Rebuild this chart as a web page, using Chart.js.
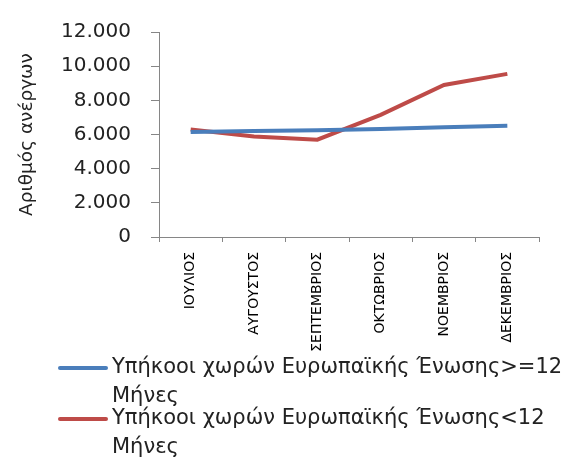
<!DOCTYPE html>
<html>
<head>
<meta charset="utf-8">
<script src="https://cdn.jsdelivr.net/npm/chart.js@4"></script>
<style>
    body { margin: 0; background: #fff; }
    #wrap { position: relative; width: 573px; height: 458px; }
    #legend {
        position: absolute; left: 58px; top: 352px; width: 514px;
        background: #fff; font-family: "DejaVu Sans", sans-serif; font-size: 21px; color: #222;
    }
    .item { display: flex; align-items: flex-start; line-height: 29px; margin-bottom: -7px; }
    .swatch { width: 50px; height: 4px; border-radius: 2px; margin-top: 14px; margin-right: 4px; flex: none; }
</style>
</head>
<body>
<div id="wrap">
    <canvas id="chart" width="573" height="458"></canvas>
    <div id="legend"></div>
</div>
<script>
const months = ["ΙΟΥΛΙΟΣ", "ΑΥΓΟΥΣΤΟΣ", "ΣΕΠΤΕΜΒΡΙΟΣ", "ΟΚΤΩΒΡΙΟΣ", "ΝΟΕΜΒΡΙΟΣ", "ΔΕΚΕΜΒΡΙΟΣ"];
const seriesNames = [
    "Υπήκοοι χωρών Ευρωπαϊκής Ένωσης>=12 Μήνες",
    "Υπήκοοι χωρών Ευρωπαϊκής Ένωσης<12 Μήνες"
];
const overTwelve = [6140, 6200, 6250, 6320, 6430, 6510];
const underTwelve = [6290, 5880, 5700, 7150, 8900, 9550];
const yTicks = [0, 2000, 4000, 6000, 8000, 10000, 12000];
const colors = ["#4a7ebb", "#be4b48"];

document.addEventListener("DOMContentLoaded", () => {
    const ctx = document.getElementById("chart").getContext("2d");
    const axisGray = "#868686";

    const chart = new Chart(ctx, {
        type: "line",
        data: {
            labels: months,
            datasets: [overTwelve, underTwelve].map((vals, i) => ({
                label: seriesNames[i],
                data: vals,
                borderColor: colors[i],
                backgroundColor: colors[i],
                borderWidth: 4,
                pointRadius: 0,
                tension: 0
            }))
        },
        options: {
            responsive: false,
            animation: false,
            layout: { padding: { top: 20, right: 34, left: 0, bottom: 0 } },
            plugins: { legend: { display: false }, tooltip: { enabled: false } },
            scales: {
                x: {
                    offset: true,
                    grid: { offset: true, drawOnChartArea: false, drawTicks: true, tickLength: 5, color: axisGray },
                    border: { color: axisGray, width: 1 },
                    ticks: {
                        maxRotation: 90, minRotation: 90, padding: 10, autoSkip: false,
                        color: "#000",
                        font: { family: "DejaVu Sans", size: 14 }
                    },
                    afterFit: (scale) => { scale.height = 221; }
                },
                y: {
                    min: 0, max: 12000,
                    afterBuildTicks: (scale) => { scale.ticks = yTicks.map(v => ({ value: v })); },
                    grid: { drawOnChartArea: false, drawTicks: true, tickLength: 8, color: axisGray },
                    border: { color: axisGray, width: 1 },
                    ticks: {
                        padding: 20, color: "#222",
                        font: { family: "DejaVu Sans", size: 20 },
                        callback: (v) => v.toLocaleString("de-DE")
                    },
                    title: {
                        display: true, text: "Αριθμός ανέργων", color: "#222",
                        font: { family: "DejaVu Sans", size: 18.5 },
                        padding: { top: 16, bottom: 0 }
                    },
                    afterFit: (scale) => { scale.width = 159; }
                }
            }
        }
    });

    // legend built from the datasets, wraps like the original
    const legend = document.getElementById("legend");
    chart.data.datasets.forEach((ds) => {
        const item = document.createElement("div");
        item.className = "item";
        item.innerHTML = `<span class="swatch" style="background:${ds.borderColor}"></span><span>${ds.label}</span>`;
        legend.appendChild(item);
    });
});
</script>
</body>
</html>
